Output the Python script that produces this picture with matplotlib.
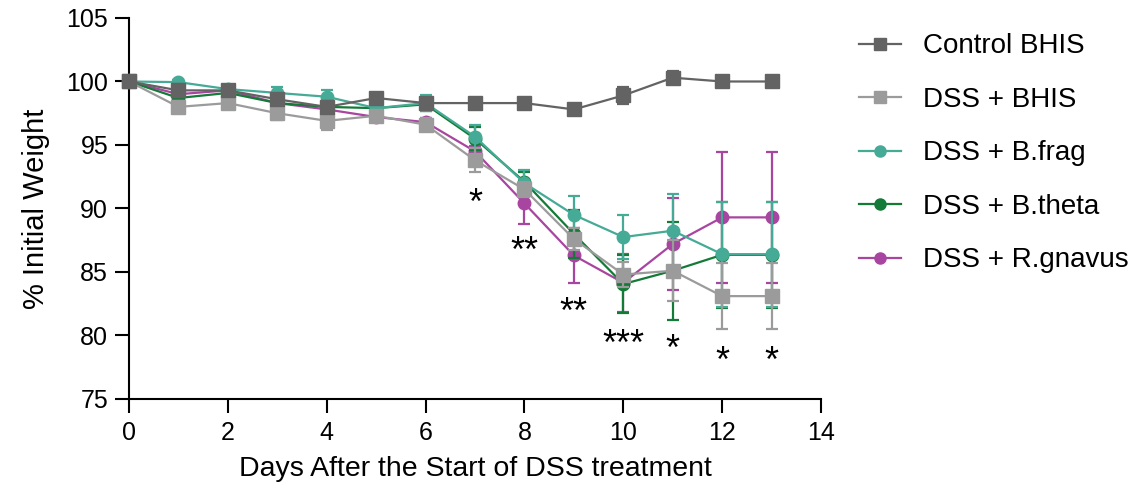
import numpy as np
import matplotlib
matplotlib.use('Agg')
import matplotlib.pyplot as plt
from matplotlib.lines import Line2D

plt.rcParams['font.family'] = ['Liberation Sans', 'DejaVu Sans']

# Data
days = list(range(14))

control = [100, 99.3, 99.3, 98.6, 98.0, 98.7, 98.3, 98.3, 98.3, 97.8, 98.9, 100.3, 100.0, 100.0]
control_err = [0, 0.5, 0.4, 0.4, 0.5, 0.3, 0.4, 0.2, 0.2, 0.3, 0.7, 0.5, 0.3, 0.3]

dss_bhis = [100, 98.0, 98.3, 97.5, 96.9, 97.3, 96.6, 93.8, 91.5, 87.6, 84.8, 85.1, 83.1, 83.1]
dss_bhis_err = [0, 0.5, 0.4, 0.5, 0.7, 0.4, 0.5, 0.95, 0.6, 0.9, 1.0, 2.4, 2.6, 2.6]

bfrag = [100, 99.95, 99.4, 99.1, 98.8, 97.9, 98.3, 95.65, 92.0, 89.5, 87.75, 88.25, 86.4, 86.4]
bfrag_err = [0, 0.2, 0.3, 0.5, 0.5, 0.3, 0.6, 0.9, 1.0, 1.5, 1.75, 2.9, 4.15, 4.15]

btheta = [100, 98.7, 99.1, 98.3, 98.0, 97.9, 98.2, 95.5, 92.1, 88.0, 84.05, 85.1, 86.35, 86.35]
btheta_err = [0, 0.3, 0.3, 0.3, 0.3, 0.3, 0.5, 0.9, 0.8, 1.9, 2.25, 3.85, 4.15, 4.15]

rgnavus = [100, 99.0, 99.3, 98.3, 97.8, 97.2, 96.8, 94.5, 90.4, 86.3, 84.15, 87.2, 89.3, 89.3]
rgnavus_err = [0, 0.4, 0.4, 0.3, 0.3, 0.3, 0.3, 0.4, 1.6, 2.2, 2.3, 3.6, 5.15, 5.15]

# significance marks
sig_days = [7, 8, 9, 10, 11, 12, 13]
sig_labels = ['*', '**', '**', '***', '*', '*', '*']
sig_y = [91.2, 87.4, 82.6, 80.1, 79.7, 78.8, 78.8]

series = [
    ("Control BHIS", control, control_err, '#636363', 's'),
    ("DSS + BHIS", dss_bhis, dss_bhis_err, '#9b9b9b', 's'),
    ("DSS + B.frag", bfrag, bfrag_err, '#45ab96', 'o'),
    ("DSS + B.theta", btheta, btheta_err, '#147a37', 'o'),
    ("DSS + R.gnavus", rgnavus, rgnavus_err, '#a845a0', 'o'),
]

fig = plt.figure(figsize=(11.39, 4.93), dpi=100)
ax = fig.add_axes([0.1133, 0.1907, 0.6075, 0.7728])

# draw last series first so control ends up on top
for z, (name, vals, err, col, mk) in enumerate(reversed(series)):
    h = ax.errorbar(days, vals, yerr=err, color=col, marker=mk, markersize=10 if mk == 's' else 9,
                    linewidth=1.6, elinewidth=1.6, capsize=4.5, capthick=1.6,
                    clip_on=False, zorder=3 + z)
    for art in h.lines[1] + h.lines[2]:
        art.set_clip_on(False)

star_fs = 26
for d, s, y in zip(sig_days, sig_labels, sig_y):
    ax.annotate(s, (d, y), xytext=(0, -0.575 * star_fs), textcoords='offset points',
                ha='center', va='baseline', fontsize=star_fs)

ax.set_xlim(0, 14)
ax.set_ylim(75, 105)
ax.set_xticks(range(0, 15, 2))
ax.set_yticks(range(75, 106, 5))
ax.spines['top'].set_visible(False)
ax.spines['right'].set_visible(False)
ax.spines['left'].set_linewidth(1.5)
ax.spines['bottom'].set_linewidth(1.5)
ax.tick_params(axis='both', length=10, width=1.5, labelsize=18)
ax.tick_params(axis='x', pad=6)
ax.tick_params(axis='y', pad=5)

ax.set_xlabel("Days After the Start of DSS treatment", fontsize=20.5, labelpad=8)
ax.set_ylabel("% Initial Weight", fontsize=21, labelpad=12)

proxies = [Line2D([], [], color=s[3], marker=s[4], markersize=8, linewidth=1.6) for s in series]
leg = ax.legend(proxies, [s[0] for s in series],
                loc='upper left', bbox_to_anchor=(1.039, 0.989), frameon=False,
                fontsize=20, handlelength=1.5, handletextpad=0.8, labelspacing=0.99,
                borderaxespad=0)

fig.savefig("out.png", dpi=100)
